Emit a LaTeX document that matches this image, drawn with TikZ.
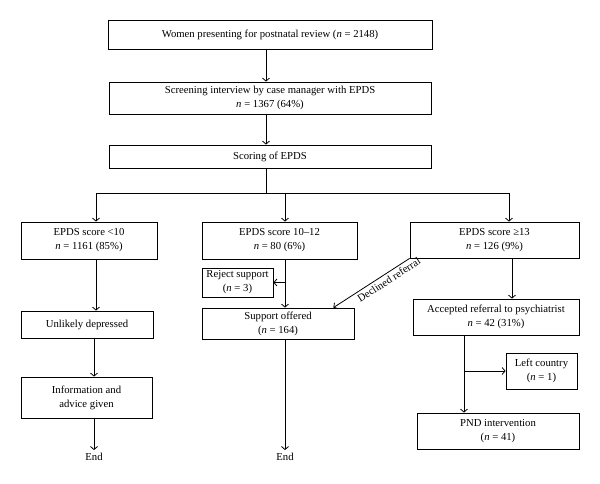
\documentclass[tikz,border=0pt]{standalone}
\usepackage{fontspec}
\setmainfont{Liberation Serif}
\usetikzlibrary{arrows.meta}

\begin{document}
\begin{tikzpicture}[x=1pt, y=1pt, font=\fontsize{10.7}{14}\selectfont]
    \useasboundingbox (0,0) rectangle (600,-484);
    \begin{scope}[every node/.style={draw, line width=0.8pt, align=center, inner sep=1pt}]
        \node[minimum width=324pt, minimum height=29pt] (1) at (270,-34.5) {Women presenting for postnatal review (\textit{n} = 2148)};
        \node[minimum width=322pt, minimum height=32pt] (2) at (270,-98) {Screening interview by case manager with EPDS\\\textit{n} = 1367 (64\%)};
        \node[minimum width=322pt, minimum height=23pt] (3) at (270,-156.5) {Scoring of EPDS};

        \node[minimum width=136pt, minimum height=37pt] (4) at (89,-240.5) {EPDS score <10\\\textit{n} = 1161 (85\%)};
        \node[minimum width=155pt, minimum height=37pt] (5) at (279.5,-240.5) {EPDS score 10--12\\\textit{n} = 80 (6\%)};
        \node[minimum width=169pt, minimum height=36pt] (6) at (494.5,-240) {EPDS score ≥13\\\textit{n} = 126 (9\%)};

        \node[minimum width=71pt, minimum height=29pt] (7) at (237.5,-282.5) {Reject support\\(\textit{n} = 3)};
        \node[minimum width=152pt, minimum height=31pt] (8) at (278,-323.5) {Support offered\\(\textit{n} = 164)};
        \node[minimum width=132pt, minimum height=27pt] (9) at (87,-324.5) {Unlikely depressed};
        \node[minimum width=131pt, minimum height=41pt] (10) at (86.5,-397.5) {Information and\\advice given};

        \node[minimum width=166pt, minimum height=36pt] (13) at (496,-317) {Accepted referral to psychiatrist\\\textit{n} = 42 (31\%)};
        \node[minimum width=71pt, minimum height=36pt] (14) at (541.5,-371) {Left country\\(\textit{n} = 1)};
        \node[minimum width=162pt, minimum height=36pt] (15) at (498,-431) {PND intervention\\(\textit{n} = 41)};
    \end{scope}

    \node[inner sep=3pt] (11) at (94,-457) {End};
    \node[inner sep=3pt] (12) at (285,-457) {End};

    \coordinate (b) at (266,-193);
    \coordinate (c) at (285,-282.5);
    \coordinate (d) at (464,-371);

    \begin{scope}[line width=0.8pt, every edge/.style={draw, line width=0.8pt, -{Straight Barb[length=3pt,width=7pt]}}]
        \path ([xshift=-4pt]1.south) edge ([xshift=-4pt]2.north);
        \path ([xshift=-4pt]2.south) edge ([xshift=-4pt]3.north);
        \draw (3.south -| b) -- (b);
        \draw[-{Straight Barb[length=3pt,width=7pt]}] (b) -| ([xshift=7pt]4.north);
        \draw[-{Straight Barb[length=3pt,width=7pt]}] (b) -| ([xshift=5.5pt]5.north);
        \draw[-{Straight Barb[length=3pt,width=7pt]}] (b) -| ([xshift=14.5pt]6.north);

        % left column
        \path ([xshift=7pt]4.south) edge ([xshift=7pt]4.south |- 9.north);
        \path ([xshift=7pt]9.south) edge ([xshift=7pt]9.south |- 10.north);
        \path ([xshift=7.5pt]10.south) edge (11.north);

        % middle column
        \path ([xshift=5.5pt]5.south) edge ([xshift=5.5pt]5.south |- 8.north);
        \path (c) edge (7.east);
        \path (8.south -| 12) edge (12.north);

        % right column
        \path (6.south west) edge node[pos=0.32, sloped, below, inner sep=2.5pt] {Declined referral} ([xshift=-21pt]8.north east);
        \path ([xshift=17.5pt]6.south) edge ([xshift=17.5pt]6.south |- 13.north);
        \path ([xshift=-32pt]13.south) edge ([xshift=-32pt]13.south |- 15.north);
        \path (d) edge (14.west);
    \end{scope}
\end{tikzpicture}
\end{document}
